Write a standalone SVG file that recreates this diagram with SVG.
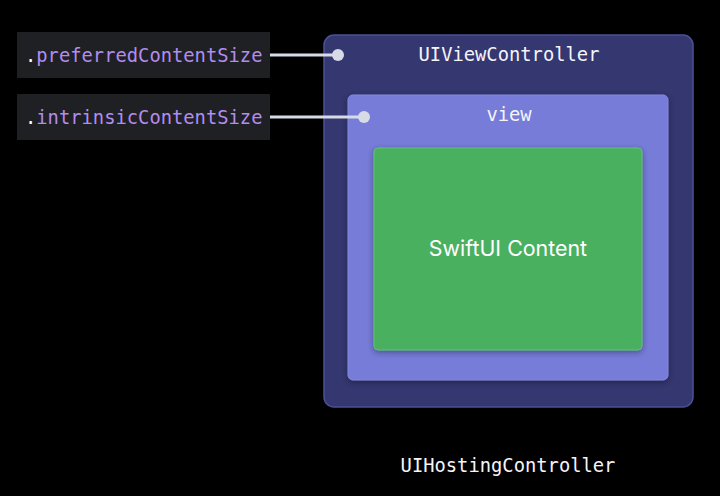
<svg xmlns="http://www.w3.org/2000/svg" width="720" height="496" viewBox="0 0 720 496">
<defs>
<style>
.mono{font-family:"DejaVu Sans Mono","Liberation Mono",monospace;font-size:18.8px;}
.lbl{fill:#1f2023;}
.prop{fill:#b28cf0;}
.dot{fill:#ffffff;}
.title{fill:#f4f4fa;text-anchor:middle;}
.conn{stroke:#d6dbe6;stroke-width:3;fill:none;}
.end{fill:#d6dbe6;}
</style>
<filter id="sh" x="-10%" y="-10%" width="120%" height="120%">
<feDropShadow dx="0" dy="2" stdDeviation="3" flood-color="#000" flood-opacity="0.35"/>
</filter>
</defs>
<rect width="720" height="496" fill="#000"/>
<g id="preferred">
<rect class="lbl" x="17" y="32" width="253" height="46"/>
<text class="mono" x="25" y="62"><tspan class="dot">.</tspan><tspan class="prop">preferredContentSize</tspan></text>
</g>
<g id="intrinsic">
<rect class="lbl" x="17" y="94" width="253" height="46"/>
<text class="mono" x="25" y="124"><tspan class="dot">.</tspan><tspan class="prop">intrinsicContentSize</tspan></text>
</g>
<g id="uiviewcontroller">
<rect x="324" y="35" width="369" height="372" rx="10" fill="#343770" stroke="#4b5097" stroke-width="1.5"/>
<text class="mono title" x="509" y="61">UIViewController</text>
</g>
<g id="view">
<rect x="348" y="95" width="320" height="285" rx="5" fill="#767bd8" stroke="#8489e0" stroke-width="1" filter="url(#sh)"/>
<text class="mono title" x="509" y="121">view</text>
</g>
<g id="swiftui">
<rect x="374" y="148" width="268" height="202" rx="4" fill="#49b060" stroke="#5cc072" stroke-width="1" filter="url(#sh)"/>
<text x="508" y="256" text-anchor="middle" font-family="Inter,'Liberation Sans',sans-serif" font-size="21.4" fill="#ffffff">SwiftUI Content</text>
</g>
<g id="hosting">
<text class="mono title" x="508" y="472">UIHostingController</text>
</g>
<g id="connectors">
<line class="conn" x1="270" y1="55" x2="338" y2="55"/>
<circle class="end" cx="338" cy="55" r="6"/>
<line class="conn" x1="270" y1="117" x2="364" y2="117"/>
<circle class="end" cx="364" cy="117" r="6"/>
</g>
</svg>
